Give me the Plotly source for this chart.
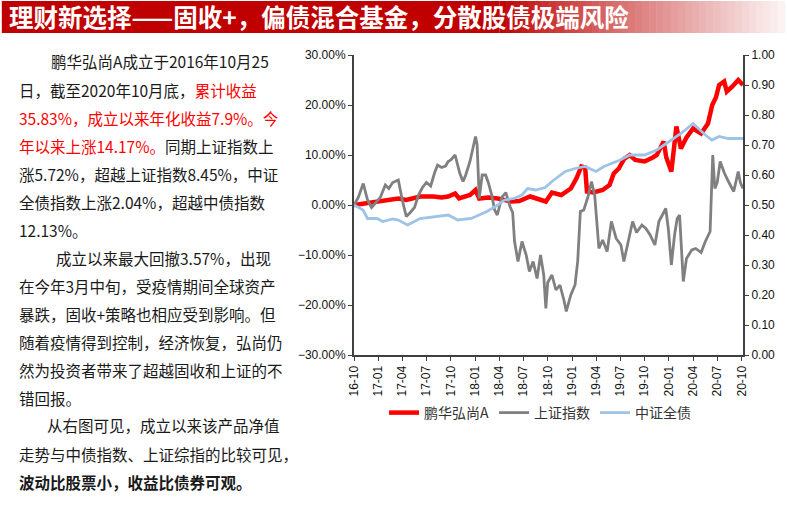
import plotly.graph_objects as go

# ---- data (cumulative return in %) ----
series_names = ['鹏华弘尚A', '上证指数', '中证全债']

fund_dates = ['2016-10-25', '2016-12-01', '2017-01-20', '2017-04-10', '2017-05-10', '2017-07-01',
              '2017-08-20', '2017-09-20', '2017-10-15', '2017-11-10', '2017-11-25', '2018-01-05',
              '2018-01-26', '2018-02-09', '2018-03-15', '2018-04-20', '2018-06-10', '2018-07-10',
              '2018-08-20', '2018-09-15', '2018-10-18', '2018-11-10', '2018-11-25', '2018-12-15',
              '2019-01-20', '2019-02-10', '2019-03-01', '2019-03-15', '2019-03-22', '2019-04-15',
              '2019-05-20', '2019-06-15', '2019-07-01', '2019-07-20', '2019-08-10', '2019-08-30',
              '2019-09-20', '2019-10-25', '2019-11-25', '2019-12-10', '2020-01-05', '2020-01-15',
              '2020-02-03', '2020-02-12', '2020-02-22', '2020-03-10', '2020-03-31', '2020-04-25',
              '2020-05-25', '2020-06-20', '2020-07-06', '2020-07-20', '2020-08-01', '2020-08-20',
              '2020-08-30', '2020-09-20', '2020-10-12', '2020-10-30']
fund_vals = [0.0, 0.3, 0.7, 1.3, 1.0, 1.7,
             1.7, 1.5, 1.7, 2.3, 1.3, 2.0,
             3.0, 1.3, 1.5, 1.3, 0.7, 0.8,
             1.7, 1.3, 0.7, 2.5, 2.3, 2.0,
             3.3, 5.3, 7.7, 7.5, 2.7, 2.5,
             3.0, 4.0, 6.3, 7.3, 9.3, 10.0,
             9.0, 8.7, 9.5, 10.0, 12.7, 9.5,
             6.7, 12.0, 15.7, 11.3, 13.5, 15.3,
             14.3, 16.3, 20.0, 21.5, 24.0, 24.7,
             22.7, 23.7, 25.0, 24.0]

sh_dates = ['2016-10-25', '2016-11-10', '2016-11-29', '2016-12-15', '2016-12-30', '2017-01-15',
            '2017-02-01', '2017-02-20', '2017-03-05', '2017-03-20', '2017-04-10', '2017-04-25',
            '2017-05-10', '2017-05-25', '2017-06-10', '2017-06-25', '2017-07-10', '2017-07-25',
            '2017-08-10', '2017-08-25', '2017-09-05', '2017-09-20', '2017-10-05', '2017-10-15',
            '2017-10-25', '2017-11-10', '2017-11-20', '2017-11-28', '2017-12-10', '2017-12-20',
            '2018-01-05', '2018-01-18', '2018-01-26', '2018-02-01', '2018-02-09', '2018-02-20',
            '2018-03-05', '2018-03-15', '2018-03-28', '2018-04-08', '2018-04-18', '2018-05-05',
            '2018-05-20', '2018-06-05', '2018-06-15', '2018-06-22', '2018-07-05', '2018-07-20',
            '2018-08-05', '2018-08-17', '2018-08-31', '2018-09-15', '2018-09-28', '2018-10-10',
            '2018-10-18', '2018-10-25', '2018-11-10', '2018-11-25', '2018-12-10', '2018-12-25',
            '2019-01-03', '2019-01-20', '2019-02-05', '2019-02-15', '2019-02-25', '2019-03-10',
            '2019-03-25', '2019-04-08', '2019-04-20', '2019-05-06', '2019-05-20', '2019-06-06',
            '2019-06-22', '2019-07-10', '2019-07-28', '2019-08-08', '2019-08-25', '2019-09-10',
            '2019-09-25', '2019-10-15', '2019-10-30', '2019-11-15', '2019-12-03', '2019-12-18',
            '2020-01-13', '2020-01-23', '2020-02-03', '2020-02-15', '2020-02-25', '2020-03-05',
            '2020-03-19', '2020-03-31', '2020-04-20', '2020-05-05', '2020-05-25', '2020-06-10',
            '2020-06-28', '2020-07-08', '2020-07-16', '2020-07-25', '2020-08-05', '2020-08-20',
            '2020-09-05', '2020-09-25', '2020-10-12', '2020-10-20', '2020-10-30']
sh_vals = [0.0, 1.5, 4.3, 1.0, -0.5, 0.5,
           1.5, 4.0, 3.3, 4.5, 5.0, 1.0,
           -2.3, -1.5, -0.5, 2.0, 3.5, 4.5,
           3.8, 6.5, 8.0, 7.5, 7.8, 8.7,
           9.0, 10.0, 8.0, 6.3, 4.7, 6.0,
           8.7, 12.0, 13.7, 12.0, 1.3, 6.0,
           6.0, 4.5, 2.0, -1.0, -2.0, 1.5,
           2.5, -0.3, -1.5, -7.3, -11.3, -7.3,
           -10.0, -13.3, -11.3, -14.7, -10.0, -14.0,
           -20.7, -15.5, -14.0, -17.0, -16.0, -19.0,
           -21.3, -18.0, -16.0, -11.3, -1.3, -1.0,
           1.5, 4.7, 2.0, -8.7, -7.0, -9.3,
           -3.3, -6.7, -8.0, -11.3, -7.0, -3.3,
           -5.5, -4.0, -4.7, -6.0, -8.0, -3.3,
           -0.7, -5.0, -12.0, -6.0, -2.7, -2.0,
           -15.3, -10.7, -9.0, -8.7, -9.5, -7.3,
           -5.3, 10.0, 3.3, 4.5, 8.7, 6.5,
           4.7, 2.7, 6.7, 4.5, 3.3]

bond_dates = ['2016-10-25', '2016-11-28', '2016-12-15', '2017-01-20', '2017-02-10', '2017-03-20',
              '2017-04-10', '2017-05-15', '2017-07-01', '2017-08-20', '2017-10-15', '2017-11-20',
              '2018-01-10', '2018-03-10', '2018-04-20', '2018-05-15', '2018-06-20', '2018-07-20',
              '2018-08-10', '2018-09-10', '2018-10-15', '2018-11-10', '2018-12-30', '2019-02-05',
              '2019-03-15', '2019-04-25', '2019-05-25', '2019-07-25', '2019-08-30', '2019-10-25',
              '2019-12-10', '2020-02-03', '2020-03-10', '2020-04-25', '2020-05-20', '2020-06-10',
              '2020-07-05', '2020-08-01', '2020-09-05', '2020-10-30']
bond_vals = [0.0, -1.0, -2.7, -2.7, -3.3, -2.8,
             -3.0, -4.0, -2.7, -2.3, -2.0, -3.0,
             -2.7, -1.3, 0.0, 1.0, 1.3, 2.0,
             3.3, 3.0, 3.5, 4.7, 6.7, 7.3,
             7.7, 6.7, 7.7, 9.0, 10.0, 10.0,
             11.0, 13.0, 14.3, 16.3, 15.0, 14.0,
             13.0, 13.7, 13.3, 13.3]

x_ticks_start = '2016-10-25'
x_range = ['2016-10-25', '2020-10-30']

# ---- left-hand text block ----
text_lines = [
    (47, '鹏华弘尚A成立于2016年10月25'),
    (15, '日，截至2020年10月底，<span style="color:#FF0000">累计收益</span>'),
    (15, '<span style="color:#FF0000">35.83%，成立以来年化收益7.9%。今</span>'),
    (15, '<span style="color:#FF0000">年以来上涨14.17%。</span>同期上证指数上'),
    (15, '涨5.72%，超越上证指数8.45%，中证'),
    (15, '全债指数上涨2.04%，超越中债指数'),
    (15, '12.13%。'),
    (52, '成立以来最大回撤3.57%，出现'),
    (15, '在今年3月中旬，受疫情期间全球资产'),
    (15, '暴跌，固收+策略也相应受到影响。但'),
    (15, '随着疫情得到控制，经济恢复，弘尚仍'),
    (15, '然为投资者带来了超越固收和上证的不'),
    (15, '错回报。'),
    (43, '从右图可见，成立以来该产品净值'),
    (15, '走势与中债指数、上证综指的比较可见，'),
    (15, '<b>波动比股票小，收益比债券可观。</b>'),
]

TITLE = '理财新选择——固收+，偏债混合基金，分散股债极端风险'

# ---- geometry helpers (pixel -> paper) ----
W, H = 787, 505
L, R, T, B = 354, 745, 55, 355


def px(x):
    return (x - L) / (R - L)


def py(y):
    return (B - y) / (B - T)


CJK = 'Noto Sans CJK SC, Microsoft YaHei, sans-serif'

fig = go.Figure()
fig.add_trace(go.Scatter(x=fund_dates, y=fund_vals, name=series_names[0], mode='lines',
                         line=dict(color='#FF0000', width=4.5)))
fig.add_trace(go.Scatter(x=sh_dates, y=sh_vals, name=series_names[1], mode='lines',
                         line=dict(color='#808080', width=2.8)))
fig.add_trace(go.Scatter(x=bond_dates, y=bond_vals, name=series_names[2], mode='lines',
                         line=dict(color='#9DC3E6', width=2.8)))
# empty trace so the right-hand axis gets drawn
fig.add_trace(go.Scatter(x=[None], y=[None], yaxis='y2', showlegend=False, hoverinfo='skip'))

axis_font = dict(family='Arial, Liberation Sans, sans-serif', size=12, color='#111')

fig.update_layout(
    width=W, height=H,
    margin=dict(l=L, r=W - R, t=T, b=H - B, pad=0),
    paper_bgcolor='white', plot_bgcolor='white',
    showlegend=True,
    legend=dict(orientation='h', x=px(541), xanchor='center', y=py(413), yanchor='middle',
                font=dict(family=CJK, size=14, color='#333'), itemwidth=30,
                bgcolor='rgba(0,0,0,0)'),
    xaxis=dict(type='date', range=x_range, tick0=x_ticks_start, dtick='M3',
               tickformat='%y-%m', tickangle=-90, showgrid=False, zeroline=False,
               showline=True, linecolor='#404040', linewidth=2,
               ticks='outside', ticklen=4, tickcolor='#404040', tickfont=axis_font),
    yaxis=dict(range=[-30, 30], dtick=10, tickformat='.2f', ticksuffix='%',
               showgrid=False, zeroline=False, showline=True, linecolor='#404040',
               linewidth=2, ticks='outside', ticklen=4, tickcolor='#404040',
               tickfont=axis_font),
    yaxis2=dict(range=[0, 1], dtick=0.1, tickformat='.2f', overlaying='y', side='right',
                anchor='x', showgrid=False, zeroline=False, showline=True,
                linecolor='#404040', linewidth=2, ticks='outside', ticklen=4,
                tickcolor='#404040', tickfont=axis_font),
)

# title banner: solid red that fades to white on the right
shapes = [dict(type='rect', xref='paper', yref='paper', x0=px(0), x1=px(500),
               y0=py(33), y1=py(1), fillcolor='rgb(192,0,0)', line=dict(width=0), layer='below')]
n = 40
for i in range(n):
    f = (i + 0.5) / n
    r = int(192 + (253 - 192) * f)
    g = int(0 + 245 * f ** 0.9)
    b = int(0 + 245 * f ** 0.9)
    x0 = 500 + (787 - 500) * i / n
    x1 = 500 + (787 - 500) * (i + 1) / n + 0.5
    shapes.append(dict(type='rect', xref='paper', yref='paper', x0=px(x0), x1=px(x1),
                       y0=py(33), y1=py(1), fillcolor=f'rgb({r},{g},{b})',
                       line=dict(width=0), layer='below'))
fig.update_layout(shapes=shapes)

annotations = [dict(text=f'<b>{TITLE}</b>', x=px(5), y=py(17), xref='paper', yref='paper',
                    xanchor='left', yanchor='middle', showarrow=False,
                    font=dict(family=CJK, size=24.5, color='white'))]
for i, (x0, line) in enumerate(text_lines):
    annotations.append(dict(text=line, x=px(x0), y=py(61.5 + 28 * i), xref='paper', yref='paper',
                            xanchor='left', yanchor='middle', showarrow=False,
                            font=dict(family=CJK, size=15.5, color='#1a1a1a')))
fig.update_layout(annotations=annotations)

# the page body has a default 8px margin; drop it so the figure fills the window
fig.write_html('out.html', config={'displayModeBar': False},
               post_script="document.body.style.margin='0px';")
